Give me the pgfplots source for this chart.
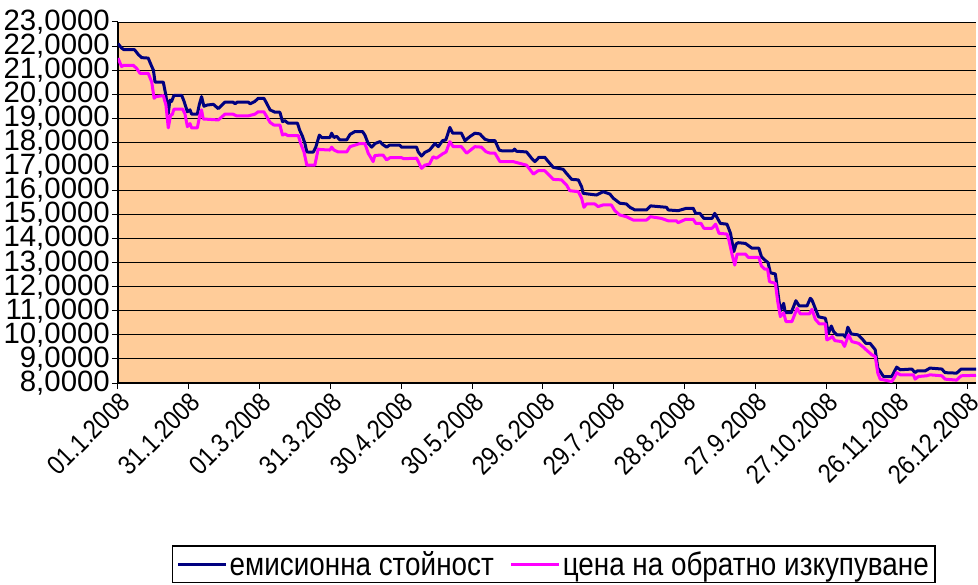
\documentclass[border=0pt]{standalone}
\usepackage{pgfplots}
\pgfplotsset{compat=1.18}
\usepackage{fontspec}
\setmainfont{Liberation Sans}
\newfontfamily\cond{Liberation Sans}[FakeStretch=0.86]
\definecolor{navyline}{RGB}{0,0,128}
\definecolor{magline}{RGB}{255,0,255}
\definecolor{bgtan}{RGB}{255,204,153}
\begin{document}
\begin{tikzpicture}
\useasboundingbox (-118bp,-202bp) rectangle (860bp,383bp);
\begin{axis}[
  at={(0,0)}, anchor=south west,
  scale only axis, width=858bp, height=361bp,
  xmin=0, xmax=363.5, ymin=8, ymax=23,
  axis background/.style={fill=bgtan},
  axis x line*=bottom, axis y line*=left,
  axis line style={-, black, line width=1.2bp},
  ymajorgrids, grid style={black, line width=0.9bp},
  ytick={8,9,...,23},
  xtick={0,30,...,360},
  xticklabels={01.1.2008,31.1.2008,01.3.2008,31.3.2008,30.4.2008,30.5.2008,29.6.2008,29.7.2008,28.8.2008,27.9.2008,27.10.2008,26.11.2008,26.12.2008},
  tick align=outside, major tick length=6bp,
  tick style={black, line width=1bp},
  x tick label style={rotate=45, anchor=north east, inner sep=1bp, font=\cond\fontsize{27}{27}\selectfont},
  y tick label style={font=\fontsize{29.5}{30}\selectfont, inner sep=2bp,
    /pgf/number format/fixed, /pgf/number format/fixed zerofill,
    /pgf/number format/precision=4, /pgf/number format/use comma,
    /pgf/number format/assume math mode=true},
  legend style={at={(0.0629,-0.4488)}, anchor=north west, draw=black, line width=1.5bp,
    font=\cond\fontsize{32.5}{32.5}\selectfont, inner xsep=4bp, inner ysep=3.5bp,
    /tikz/every odd column/.append style={inner xsep=2bp},
    /tikz/column 2/.style={column sep=14bp}},
  legend columns=2,
  legend image code/.code={\draw[#1, line width=3bp] (0bp,0bp) -- (48bp,0bp);},
]
\addplot[navyline, line width=3bp, line join=round] coordinates {
(0,22.10) (1.5,21.92) (2.5,21.85) (7,21.85) (8.6,21.65) (10,21.52) (12.8,21.50)
(14.3,21.15) (15,21.00) (15.7,20.50) (19.2,20.50) (20.3,19.95) (21.3,19.20)
(22,19.75) (22.7,19.70) (23.7,19.95) (27,19.95) (28,19.70) (29.4,19.27)
(30.5,19.35) (31.2,19.17) (33.6,19.17) (34.4,19.55) (35.4,19.90) (36.4,19.50)
(37.8,19.55) (40.4,19.58) (42.5,19.40) (45.3,19.67) (48.8,19.67) (49.6,19.60)
(50.5,19.67) (55.2,19.67) (56,19.60) (58,19.70) (59.4,19.83) (61.8,19.83)
(63,19.62) (64.4,19.35) (66.5,19.25) (68.6,19.25) (69.7,18.86) (70.7,18.90)
(72,18.80) (76,18.80) (77,18.50) (78.2,18.24) (79.2,17.95) (80,17.60)
(82.7,17.59) (83.8,17.80) (85.3,18.30) (86.3,18.20) (89.8,18.20) (90.5,18.38)
(91.5,18.20) (92.6,18.25) (94,18.10) (96.9,18.10) (98.3,18.33) (100.4,18.45)
(103.6,18.45) (104.6,18.30) (106,17.95) (107.5,17.80) (108.9,17.95) (111,18.03)
(112.3,17.90) (113.8,17.80) (115,17.88) (119.4,17.88) (120.1,17.80) (126.5,17.80)
(127.2,17.60) (128.6,17.43) (130,17.58) (132,17.68) (134.3,17.95) (135.7,17.82)
(137.5,18.07) (138.9,18.10) (140.6,18.62) (141.8,18.38) (145.5,18.38) (147,18.07)
(149.1,18.24) (151.2,18.38) (153.3,18.35) (155.4,18.13) (157.3,18.07) (159.7,18.07)
(161.5,17.68) (162.5,17.65) (167.4,17.65) (168,17.72) (168.8,17.63) (173.1,17.60)
(175.2,17.34) (176.6,17.20) (178.4,17.38) (180.8,17.38) (182.3,17.20) (184.4,16.96)
(188.6,16.88) (190,16.71) (192.2,16.46) (195,16.44) (196.4,16.16) (197.1,15.88)
(202.7,15.81) (205.5,15.95) (208.4,15.85) (209.8,15.68) (212.6,15.47) (215.4,15.44)
(216.9,15.30) (219,15.19) (223.9,15.19) (225.6,15.36) (232.4,15.30) (233.1,15.19)
(237.3,15.16) (240.8,15.26) (243.7,15.26) (244.7,15.05) (246.5,15.05) (248.2,14.84)
(251.7,14.84) (252.8,15.05) (254,14.84) (255.2,14.63) (258,14.60) (259.5,14.22)
(260.9,13.46) (261.9,13.78) (262.7,13.83) (265.8,13.80) (267.2,13.70) (268.6,13.60)
(271.5,13.60) (272.6,13.25) (274,13.11) (275.4,13.00) (276.4,12.58) (278.5,12.53)
(279.6,11.73) (280.6,11.00) (282,11.31) (282.7,10.92) (285.2,10.92) (287.2,11.42)
(288.6,11.20) (291.9,11.20) (293.3,11.52) (294,11.45) (295.4,11.10) (296.8,10.75)
(299.7,10.69) (301,10.07) (302.2,10.37) (303.2,10.13) (304.6,10.00) (307.4,10.00)
(308.2,9.90) (309.2,10.32) (310.6,10.04) (313.5,10.00) (315.4,9.82) (316.8,9.65)
(318.6,9.65) (320.8,9.38) (321.9,8.62) (322.9,8.48) (324.3,8.27) (327.8,8.27)
(329.9,8.66) (331.4,8.55) (336.3,8.58) (337.7,8.43) (338.5,8.50) (341.9,8.50)
(344,8.62) (349,8.58) (350.4,8.43) (355.3,8.41) (357.2,8.58) (363.5,8.58)
};
\addlegendentry{емисионна стойност}
\addplot[magline, line width=3bp, line join=round] coordinates {
(0,21.50) (1.5,21.15) (2.5,21.20) (6.5,21.20) (7.9,21.07) (9.3,20.87) (12.8,20.87)
(14.3,20.50) (15.3,19.83) (16,19.90) (19.2,19.94) (20.3,19.55) (21.3,18.60)
(22.3,19.14) (23,19.15) (23.7,19.38) (27.4,19.38) (28.4,19.17) (29.4,18.65)
(30.5,18.78) (31.2,18.60) (33.6,18.60) (34.7,19.14) (35.4,19.35) (36.1,18.97)
(42.5,18.93) (45.3,19.17) (48.8,19.17) (50.2,19.10) (55.2,19.10) (58,19.17)
(59.4,19.27) (61.8,19.27) (63,19.07) (64.4,18.83) (66,18.72) (68.6,18.72)
(69.7,18.30) (70.7,18.35) (72,18.28) (76.4,18.28) (77.4,17.95) (78.8,17.60)
(80,17.05) (83.4,17.05) (84.8,17.72) (85.8,17.70) (89.8,17.68) (90.5,17.80)
(91.5,17.68) (93.3,17.60) (96.9,17.60) (98.3,17.82) (102.5,17.95) (104.6,17.95)
(106,17.55) (108.1,17.20) (108.8,17.45) (111,17.47) (112.3,17.47) (113.8,17.27)
(115.2,17.36) (120.2,17.36) (121,17.32) (126.5,17.34) (128.6,16.92) (130,17.05)
(132,17.10) (133.5,17.40) (134.9,17.34) (137.5,17.52) (139,17.60) (140.6,18.03)
(142,17.82) (145.5,17.82) (147.7,17.55) (149.4,17.68) (151.2,17.82) (154,17.80)
(155.9,17.61) (157.6,17.55) (159.7,17.55) (161.8,17.20) (167.4,17.20) (168.5,17.17)
(173.1,17.05) (176,16.68) (178,16.82) (180.8,16.82) (183,16.60) (184.4,16.46)
(187.9,16.44) (190,16.23) (191.4,15.99) (195,15.95) (196.4,15.68) (197.4,15.30)
(198.5,15.44) (202,15.44) (203.4,15.33) (205.5,15.40) (209,15.40) (210.5,15.16)
(212.6,14.98) (215.4,14.91) (218.3,14.77) (223.9,14.77) (225.6,14.91) (230.2,14.84)
(233.1,14.74) (236.6,14.74) (237.3,14.66) (240.5,14.80) (243.7,14.80) (244.8,14.63)
(247,14.63) (248.2,14.43) (251.7,14.43) (253.2,14.60) (254.6,14.22) (258,14.19)
(258.8,13.94) (260.2,13.32) (261.3,12.90) (262.3,13.36) (265.8,13.36) (267,13.22)
(271.5,13.22) (272.6,12.86) (274,12.73) (275.2,12.73) (276,12.21) (278.5,12.14)
(279.5,11.38) (280.6,10.76) (282,10.92) (283,10.55) (285.5,10.55) (287.7,11.10)
(289.1,10.87) (292.9,10.87) (294,11.06) (295.4,10.65) (297.1,10.46) (299.7,10.46)
(300.3,9.79) (301.7,9.86) (302.6,9.93) (303.7,9.76) (306.7,9.72) (307.8,9.52)
(309.5,10.00) (310.9,9.72) (313.7,9.65) (315.4,9.52) (317.3,9.35) (319.4,9.17)
(320.8,9.10) (321.9,8.41) (322.9,8.16) (327.8,8.06) (329,8.24) (329.9,8.43)
(331.4,8.34) (337,8.34) (337.7,8.16) (339.1,8.27) (342.6,8.30) (344,8.34)
(349,8.30) (350.4,8.16) (355.3,8.12) (357.2,8.30) (363.5,8.32)
};
\addlegendentry{цена на обратно изкупуване}
\end{axis}
\end{tikzpicture}
\end{document}
